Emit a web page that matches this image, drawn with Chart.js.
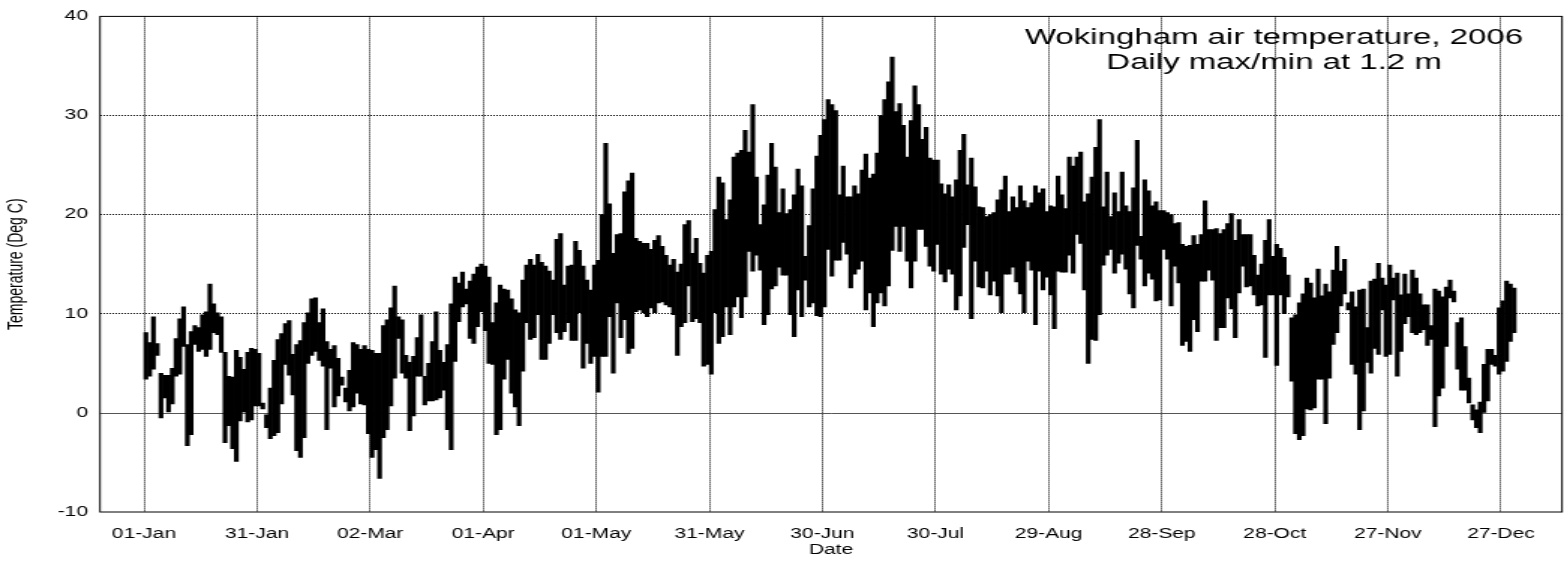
<!DOCTYPE html>
<html><head><meta charset="utf-8">
<script src="https://cdn.jsdelivr.net/npm/chart.js@4.4.1/dist/chart.umd.min.js"></script>
<style>html,body{margin:0;padding:0;background:#fff;overflow:hidden}</style>
</head><body>
<canvas id="c" width="1043" height="562" style="display:block;width:1564px;height:562px"></canvas>
<script>
// Daily [min, max] air temperature (deg C), one array per month
const jan=[[3.4,8.1],[3.7,7.1],[4.4,9.7],[5.8,7.0],[-0.5,4.0],[1.5,3.8],[0.1,3.8],[0.9,4.5],[3.7,7.5],[3.9,9.5],[6.7,10.7],[-3.3,6.9],[-2.2,8.2],[6.9,8.8],[6.2,8.6],[6.4,9.9],[5.7,10.2],[6.4,13.0],[8.1,11.0],[7.9,10.1],[6.1,9.7],[-3.0,6.1],[-1.3,3.7],[-3.6,3.6],[-4.9,6.3],[-0.8,5.6],[0.1,4.4],[-0.9,6.1],[-0.7,6.5],[0.7,6.4],[0.7,6.0]];
const feb=[[0.4,1.0],[-1.5,-0.2],[-2.6,2.5],[-2.3,5.3],[-2.0,7.4],[0.9,8.0],[4.9,9.0],[3.8,9.3],[1.8,5.9],[-3.8,6.9],[-4.5,7.3],[-2.5,9.1],[5.0,10.1],[5.8,11.5],[6.2,11.6],[5.3,9.1],[4.7,10.5],[-1.7,7.2],[4.5,6.4],[0.6,6.8],[1.7,5.5],[2.8,3.6],[1.1,2.5],[0.2,4.3],[0.6,7.1],[2.0,6.9],[0.9,6.4],[0.8,6.8]];
const mar=[[-2.1,6.4],[-4.5,6.3],[-3.7,6.0],[-6.6,6.0],[-2.5,8.8],[-1.7,9.4],[0.7,10.6],[3.5,12.8],[7.5,9.7],[4.0,9.4],[3.5,5.8],[-1.8,5.1],[-0.3,5.7],[3.7,7.6],[3.7,9.9],[0.8,3.7],[1.2,5.0],[1.2,7.2],[1.3,10.2],[1.5,6.3],[2.3,5.1],[-1.7,6.9],[-3.7,11.0],[5.2,13.7],[9.2,13.1],[10.7,14.2],[11.0,12.5],[7.5,13.3],[7.0,14.0],[8.7,14.7],[10.2,15.0]];
const apr=[[8.3,14.8],[5.0,13.7],[4.9,9.1],[-2.2,11.1],[-1.7,12.9],[3.4,12.5],[5.4,12.4],[2.0,11.5],[0.6,10.4],[-1.3,10.1],[4.2,13.4],[9.1,14.9],[7.4,15.5],[7.6,14.9],[9.9,16.0],[5.4,15.2],[5.4,14.8],[7.0,14.3],[9.9,13.4],[8.1,17.5],[7.4,18.1],[8.2,12.9],[9.1,14.8],[7.3,14.9],[7.3,17.3],[10.1,16.4],[4.5,14.8],[7.0,13.4],[5.0,12.4],[5.7,14.9]];
const may=[[2.1,15.4],[5.7,20.0],[5.7,27.2],[9.7,21.1],[4.0,16.1],[11.1,18.0],[7.6,18.1],[9.4,22.3],[6.0,23.4],[6.5,24.2],[10.2,17.6],[10.4,17.3],[10.1,17.1],[9.7,17.1],[10.6,16.5],[10.1,17.4],[11.1,17.9],[11.2,16.8],[10.9,15.9],[10.7,14.9],[9.9,15.5],[5.8,14.2],[8.7,15.0],[9.1,19.0],[12.8,19.4],[9.2,16.1],[9.5,17.6],[9.1,15.1],[4.7,14.1],[4.9,15.9],[3.9,16.3]];
const jun=[[10.1,20.5],[7.0,23.8],[7.7,23.2],[10.7,19.5],[7.9,21.5],[10.7,25.8],[11.7,26.2],[9.6,26.5],[11.7,28.5],[16.3,26.3],[14.3,31.1],[15.9,23.8],[14.4,19.0],[8.9,21.0],[9.9,24.0],[12.5,27.2],[12.8,24.8],[14.7,20.2],[13.9,22.6],[13.9,20.1],[9.9,20.5],[7.7,22.0],[12.4,24.6],[9.7,22.9],[13.4,15.8],[10.7,18.9],[11.1,22.6],[9.8,25.9],[9.7,28.0],[10.7,29.6]];
const jul=[[16.5,31.6],[13.8,31.1],[15.4,30.5],[15.4,22.0],[17.2,24.9],[16.0,21.8],[12.6,21.8],[14.0,22.9],[14.5,22.1],[15.3,24.5],[10.4,26.1],[12.1,23.7],[8.7,24.1],[11.1,26.2],[12.1,30.0],[10.8,31.6],[12.8,33.4],[16.4,35.9],[18.8,30.4],[16.3,31.2],[18.8,29.0],[15.3,25.8],[12.6,29.5],[15.3,33.0],[18.5,31.1],[18.5,27.6],[16.8,28.8],[14.8,25.7],[14.3,25.5],[17.0,25.5],[14.0,23.1]];
const aug=[[13.2,22.1],[14.5,23.0],[14.0,21.8],[10.4,23.5],[11.8,26.5],[16.7,28.1],[19.0,23.0],[9.5,25.7],[15.3,22.8],[12.7,20.8],[12.6,20.7],[14.3,19.8],[11.9,20.0],[13.3,20.2],[11.8,21.5],[10.1,22.5],[14.0,23.9],[14.0,20.3],[14.7,21.8],[13.2,20.7],[12.0,22.9],[10.1,21.4],[15.3,20.7],[14.4,21.2],[8.9,22.9],[14.3,22.2],[12.4,22.6],[13.7,20.3],[11.9,20.9],[8.5,20.8],[14.3,23.9]];
const sep=[[14.2,22.0],[14.2,20.6],[15.9,25.8],[14.1,24.9],[18.0,25.8],[17.1,26.3],[12.4,21.3],[5.0,22.1],[7.4,23.8],[7.3,26.8],[9.9,29.6],[14.9,20.8],[15.9,24.3],[16.5,19.8],[14.1,22.2],[15.1,20.3],[16.0,24.3],[14.5,20.9],[12.0,20.3],[10.6,22.7],[16.9,27.5],[15.5,17.8],[12.8,23.5],[14.1,22.4],[13.5,20.9],[11.3,21.3],[11.4,20.4],[16.5,20.4],[15.5,20.2],[10.8,20.0]];
const oct=[[14.8,19.1],[13.1,19.2],[6.8,17.0],[7.2,16.8],[6.2,16.9],[9.4,17.9],[8.2,17.0],[13.3,18.0],[13.3,21.4],[14.4,18.5],[13.4,18.5],[7.3,18.6],[8.6,18.1],[8.6,18.5],[11.6,19.1],[10.5,20.1],[7.6,17.4],[12.1,19.5],[14.8,18.0],[12.7,18.0],[12.8,18.0],[11.9,15.9],[10.8,13.9],[10.9,15.0],[5.6,17.4],[11.9,19.5],[11.9,15.8],[4.8,17.0],[11.9,16.6],[10.0,15.7],[11.7,13.9]];
const nov=[[3.2,9.6],[-2.1,9.9],[-2.7,11.1],[-2.3,12.0],[0.4,13.6],[0.3,13.1],[0.5,11.6],[3.4,14.5],[3.4,11.8],[-1.1,13.0],[3.5,12.2],[6.9,14.4],[8.1,16.8],[10.8,14.3],[12.0,15.5],[10.4,11.1],[4.9,12.2],[3.9,10.7],[-1.7,12.4],[0.2,12.5],[5.1,8.6],[4.0,13.3],[6.5,13.5],[5.9,15.1],[10.4,13.6],[5.7,12.9],[5.9,14.9],[11.4,13.6],[3.7,14.1],[6.2,11.9]];
const dec=[[9.0,14.0],[9.7,12.0],[8.1,14.4],[7.9,13.6],[8.1,12.0],[8.4,10.9],[6.8,10.9],[7.4,8.8],[-1.4,12.5],[1.7,12.3],[2.5,11.7],[6.7,12.7],[11.6,13.4],[11.2,12.3],[4.4,9.1],[2.3,9.6],[2.3,6.7],[1.0,3.5],[-0.7,0.8],[-1.5,0.3],[-2.0,1.1],[0.0,4.9],[1.2,6.4],[4.9,6.4],[4.7,5.8],[3.9,10.6],[4.2,11.3],[5.2,13.3],[7.2,13.0],[8.1,12.6]];

// Axis ticks (day of year) and their labels
const tickDays=[0,30,60,90,120,150,180,210,240,270,300,330,360];
const tickLabels=['01-Jan','31-Jan','02-Mar','01-Apr','01-May','31-May','30-Jun','30-Jul','29-Aug','28-Sep','28-Oct','27-Nov','27-Dec'];
const yTicks=[-10,0,10,20,30,40];
const titleLines=['Wokingham air temperature, 2006','Daily max/min at 1.2 m'];
const yTitle='Temperature (Deg C)';
const xTitle='Date';

const days=[...jan,...feb,...mar,...apr,...may,...jun,...jul,...aug,...sep,...oct,...nov,...dec];
const barData=days.map((p,i)=>({x:i+0.5,y:[p[0],p[1]]}));

const W=1043, SX=1564/W;
const plotLeft=100/SX, plotRight=1562/SX;
const FONT='"Liberation Sans", Arial, sans-serif';

const framePlugin={
  id:'frame',
  beforeDatasetsDraw(chart){
    const {ctx,chartArea:a,scales:{y}}=chart;
    const py=Math.round(y.getPixelForValue(0))+0.5;
    ctx.save();ctx.strokeStyle='#555';ctx.lineWidth=1;
    ctx.beginPath();ctx.moveTo(a.left,py);ctx.lineTo(a.right,py);ctx.stroke();
    ctx.restore();
  },
  afterDatasetsDraw(chart){
    const {ctx,chartArea:a}=chart;
    ctx.save();
    ctx.strokeStyle='#000';ctx.lineWidth=1;
    ctx.strokeRect(a.left,a.top,a.right-a.left,a.bottom-a.top);
    ctx.fillStyle='#000';ctx.font='22px '+FONT;ctx.textAlign='center';ctx.textBaseline='alphabetic';
    const cx=a.right-(1562-1274)/SX;
    ctx.fillText(titleLines[0],cx,a.top+28);
    ctx.fillText(titleLines[1],cx,a.top+53);
    ctx.restore();
  }
};

new Chart(document.getElementById('c'),{
  type:'bar',
  data:{datasets:[{data:barData,backgroundColor:'#000',borderWidth:0,barPercentage:1,categoryPercentage:1}]},
  options:{
    responsive:false,animation:false,devicePixelRatio:1,
    layout:{padding:{top:15,right:W-plotRight,left:0,bottom:0}},
    plugins:{legend:{display:false},tooltip:{enabled:false}},
    scales:{
      x:{type:'linear',min:-11.67,max:376.2,offset:false,
        afterBuildTicks(s){s.ticks=tickDays.map(v=>({value:v}));},
        afterFit(s){s.height=50;},
        grid:{offset:false,color:'#000',drawTicks:false,lineWidth:1},
        border:{display:false,dash:[1,1]},
        ticks:{autoSkip:false,maxRotation:0,padding:14,color:'#000',font:{family:FONT,size:14},
          callback:(v)=>{const i=tickDays.indexOf(v);return i>=0?tickLabels[i]:'';}},
        title:{display:true,text:xTitle,color:'#000',font:{family:FONT,size:14},padding:{top:0,bottom:3}}
      },
      y:{min:-10,max:40,
        afterBuildTicks(s){s.ticks=yTicks.map(v=>({value:v}));},
        afterFit(s){s.width=plotLeft;},
        grid:{color:(c)=>(c.tick&&[10,20,30].includes(c.tick.value))?'#000':'rgba(0,0,0,0)',drawTicks:false,lineWidth:1},
        border:{display:false,dash:[1,1]},
        ticks:{padding:8,color:'#000',font:{family:FONT,size:14}},
        title:{display:true,text:yTitle,color:'#000',font:{family:FONT,size:14},padding:{top:3,bottom:0}}
      }
    }
  },
  plugins:[framePlugin]
});
</script>
</body></html>
